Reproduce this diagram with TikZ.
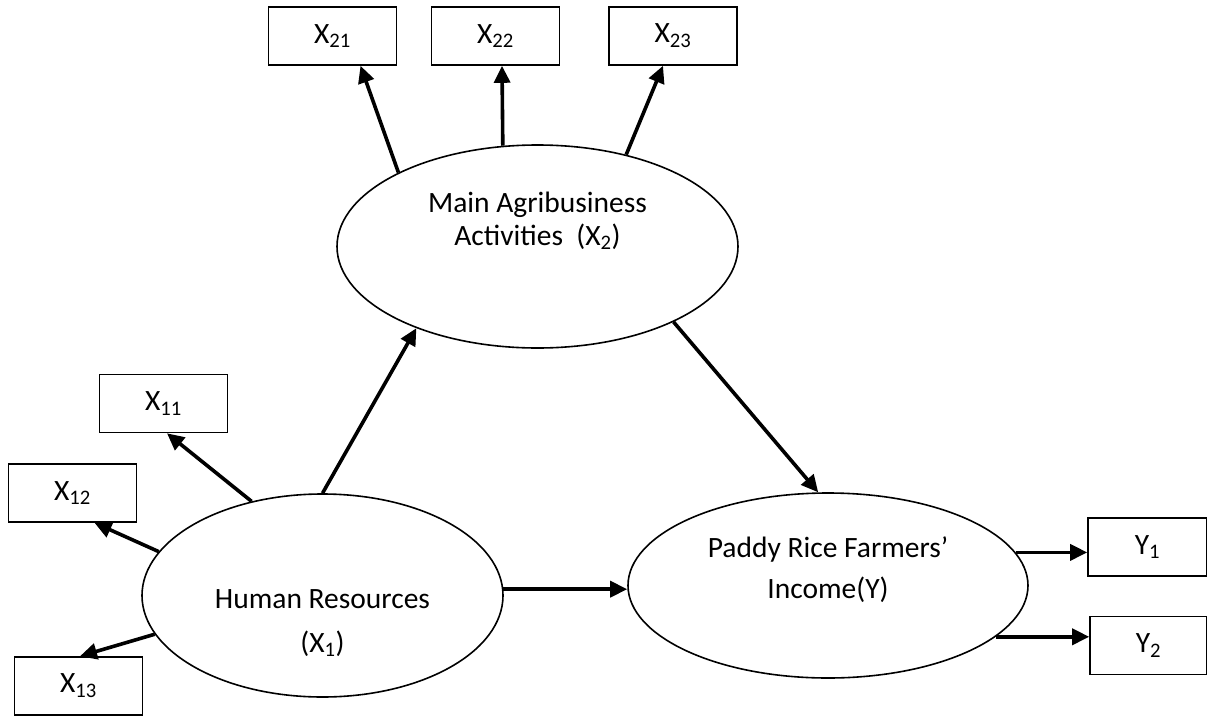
\documentclass[tikz,border=0pt]{standalone}
\usepackage{fontspec}
\setmainfont{Carlito}
\usetikzlibrary{arrows.meta,shapes.geometric}
\tikzset{
  box/.style={draw, line width=1.6pt, minimum width=128pt, minimum height=58pt, inner sep=0pt, font=\fontsize{29.5}{34}\selectfont},
  latent/.style={draw, ellipse, line width=1.6pt, inner sep=0pt},
  lbl/.style={anchor=base, inner sep=0pt, font=\fontsize{29.5}{34}\selectfont},
  arr/.style={line width=3.6pt, -{Triangle[length=17pt,width=16pt]}},
}
\begin{document}
\begin{tikzpicture}[x=1pt,y=-1pt]
\useasboundingbox (0,0) rectangle (1207,715);
% latent variables
\node[latent, minimum width=401pt, minimum height=203pt] (x2) at (537.5,246.5) {};
\node[latent, minimum width=361pt, minimum height=203pt] (x1) at (322.5,595.5) {};
\node[latent, minimum width=400pt, minimum height=185pt] (y) at (828,585.5) {};
% labels
\node[lbl] (x2a) at (537.5,212) {Main Agribusiness};
\node[lbl] (x2b) at (537.5,245) {Activities\ \ (X\textsubscript{2})};
\node[lbl] (x1a) at (322.5,608) {Human Resources};
\node[lbl] (x1b) at (322.5,652) {(X\textsubscript{1})};
\node[lbl] (ya) at (828,557) {Paddy Rice Farmers’};
\node[lbl] (yb) at (828,598) {Income(Y)};
% indicators
\node[box] (x21) at (332.5,36) {X\textsubscript{21}};
\node[box] (x22) at (495.5,36) {X\textsubscript{22}};
\node[box] (x23) at (673,36) {X\textsubscript{23}};
\node[box] (x11) at (163.5,403.5) {X\textsubscript{11}};
\node[box] (x12) at (72.5,493) {X\textsubscript{12}};
\node[box] (x13) at (78.5,686) {X\textsubscript{13}};
\node[box, minimum width=119pt] (y1) at (1147.5,547) {Y\textsubscript{1}};
\node[box, minimum width=117pt] (y2) at (1148.5,645.5) {Y\textsubscript{2}};
% connectors
\draw[arr] (x2.152.4) -- ([xshift=28pt]x21.south);
\draw[arr] (x2.109.6) -- ([xshift=6.5pt]x22.south);
\draw[arr] (x2.46.9) -- ([xshift=-10pt]x23.south);
\draw[arr] (x1.90) -- (x2.214.9);
\draw[arr] (x2.331.6) -- (y.96.8);
\draw[arr] (x1.127.9) -- ([xshift=3.5pt]x11.south);
\draw[arr] (x1.165.6) -- ([xshift=22pt]x12.south);
\draw[arr] (x1.193.1) -- ([xshift=1.5pt]x13.north);
\draw[arr] (x1.2.4) -- (x1.2.4 -| y.west);
\draw[arr] (y.10.9) -- (y.10.9 -| y1.west);
\draw[arr] (y.-17.4) -- (y.-17.4 -| y2.west);
\end{tikzpicture}
\end{document}
